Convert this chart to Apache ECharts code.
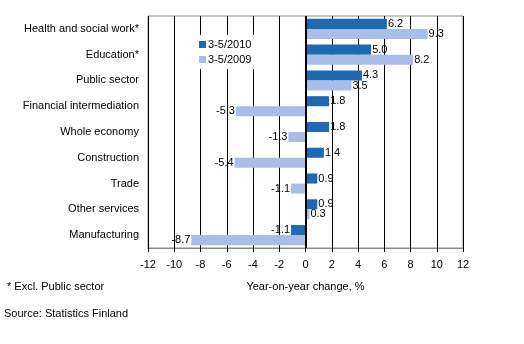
<!DOCTYPE html>
<html>
<head>
<meta charset="utf-8">
<script src="https://cdn.jsdelivr.net/npm/echarts@6/dist/echarts.min.js"></script>
<style>html,body{margin:0;padding:0;background:#fff}#c{width:524px;height:344px}</style>
</head>
<body>
<div id="c"></div>
<script>
var categories = ['Health and social work*', 'Education*', 'Public sector', 'Financial intermediation', 'Whole economy', 'Construction', 'Trade', 'Other services', 'Manufacturing'];
var seriesNames = ['3-5/2010', '3-5/2009'];
var values2010 = [6.2, 5.0, 4.3, 1.8, 1.8, 1.4, 0.9, 0.9, -1.1];
var values2009 = [9.3, 8.2, 3.5, -5.3, -1.3, -5.4, -1.1, 0.3, -8.7];
var xTicks = [-12, -10, -8, -6, -4, -2, 0, 2, 4, 6, 8, 10, 12];

var FONT = 'Liberation Sans, Arial, sans-serif';
function items(arr) {
  return arr.map(function (v) {
    return { value: v, label: { position: v < 0 ? 'left' : 'right' } };
  });
}
var chart = echarts.init(document.getElementById('c'), null, { renderer: 'canvas' });
chart.setOption({
  animation: false,
  backgroundColor: '#fff',
  textStyle: { fontFamily: FONT },
  grid: { left: 148, top: 16, width: 315, height: 232, show: true, borderColor: '#888', borderWidth: 1, backgroundColor: '#fff' },
  legend: {
    data: seriesNames,
    orient: 'vertical',
    left: 190, top: 35,
    backgroundColor: '#fff',
    padding: [4, 14, 4, 9],
    itemWidth: 7, itemHeight: 7, itemGap: 4,
    icon: 'rect',
    textStyle: { fontFamily: FONT, fontSize: 11, color: '#000', padding: [0, 0, 0, -3] }
  },
  xAxis: {
    type: 'value', min: xTicks[0], max: xTicks[xTicks.length - 1], interval: 2,
    name: 'Year-on-year change, %', nameLocation: 'middle', nameGap: 33,
    nameTextStyle: { fontFamily: FONT, fontSize: 11, color: '#000' },
    axisLine: { show: true, onZero: false, lineStyle: { color: '#888' } },
    axisTick: { show: true, length: 4, lineStyle: { color: '#000' } },
    axisLabel: { fontFamily: FONT, fontSize: 11, color: '#000', margin: 11 },
    splitLine: { show: true, lineStyle: { color: '#000', width: 1 } }
  },
  yAxis: {
    type: 'category', data: categories, inverse: true,
    axisLine: { show: false }, axisTick: { show: false },
    axisLabel: { fontFamily: FONT, fontSize: 11, color: '#000', margin: 9 }
  },
  series: [
    {
      name: seriesNames[0], type: 'bar', data: items(values2010),
      barGap: '0%', barCategoryGap: '22%',
      itemStyle: { color: '#1f68b2' },
      label: { show: true, distance: 1, fontFamily: FONT, fontSize: 11, color: '#000', formatter: function (p) { return p.value.toFixed(1); } },
      markLine: { silent: true, symbol: 'none', label: { show: false }, lineStyle: { color: '#000', width: 2, type: 'solid' }, data: [{ xAxis: 0 }], z: 5 }
    },
    {
      name: seriesNames[1], type: 'bar', data: items(values2009),
      barGap: '0%', barCategoryGap: '22%',
      itemStyle: { color: '#a9bde9' },
      label: { show: true, distance: 1, fontFamily: FONT, fontSize: 11, color: '#000', formatter: function (p) { return p.value.toFixed(1); } }
    }
  ],
  title: [
    { text: '* Excl. Public sector', left: 7, top: 281, textStyle: { fontFamily: FONT, fontSize: 11, fontWeight: 'normal', color: '#000' }, padding: 0 },
    { text: 'Source: Statistics Finland', left: 4, top: 308, textStyle: { fontFamily: FONT, fontSize: 11, fontWeight: 'normal', color: '#000' }, padding: 0 }
  ]
});
</script>
</body>
</html>
